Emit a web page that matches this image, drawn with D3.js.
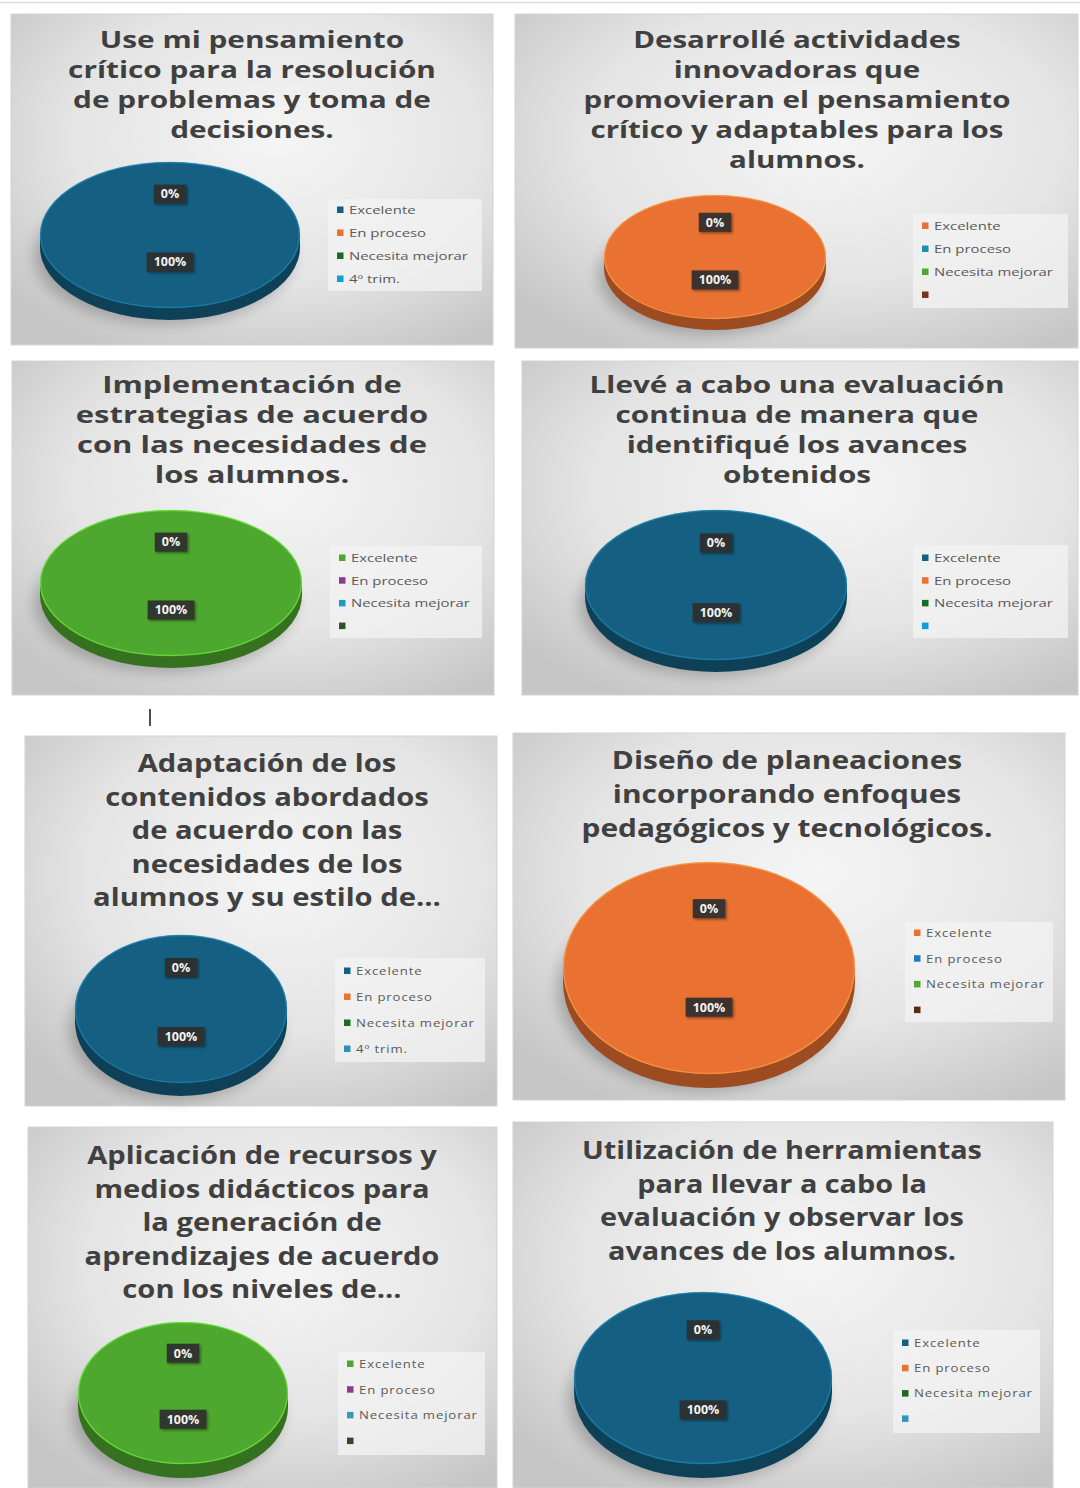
<!DOCTYPE html>
<html><head><meta charset="utf-8">
<script src="https://cdn.jsdelivr.net/npm/d3@7"></script>
<style>body{margin:0;background:#fff;} svg{display:block;}</style>
</head><body>
<svg id="c" width="1080" height="1488"></svg>
<script>
// ---------- DATA ----------
const titles = [
 ["Use mi pensamiento","crítico para la resolución","de problemas y toma de","decisiones."],
 ["Desarrollé actividades","innovadoras que","promovieran el pensamiento","crítico y adaptables para los","alumnos."],
 ["Implementación de","estrategias de acuerdo","con las necesidades de","los alumnos."],
 ["Llevé a cabo una evaluación","continua de manera que","identifiqué los avances","obtenidos"],
 ["Adaptación de los","contenidos abordados","de acuerdo con las","necesidades de los","alumnos y su estilo de..."],
 ["Diseño de planeaciones","incorporando enfoques","pedagógicos y tecnológicos."],
 ["Aplicación de recursos y","medios didácticos para","la generación de","aprendizajes de acuerdo","con los niveles de..."],
 ["Utilización de herramientas","para llevar a cabo la","evaluación y observar los","avances de los alumnos."]
];
const categories = ["Excelente","En proceso","Necesita mejorar"];
const fourthCategory = ["4º trim.","","","","4º trim.","","",""];
const excelente       = [100,100,100,100,100,100,100,100];
const enProceso       = [0,0,0,0,0,0,0,0];
const necesitaMejorar = [0,0,0,0,0,0,0,0];
const cuarto          = [0,0,0,0,0,0,0,0];
const palettes = [
 ["#156082","#E97132","#196B24","#0F9ED5"],
 ["#E97132","#1E8FB8","#4EA72E","#7A3517"],
 ["#4EA72E","#8E3A8C","#1E9BC4","#2F5224"],
 ["#156082","#E97132","#196B24","#0F9ED5"],
 ["#156082","#E97132","#196B24","#2E8FB8"],
 ["#E97132","#1F7BC0","#4EA72E","#5A2A12"],
 ["#4EA72E","#8E3A8C","#3C96B8","#2F4A26"],
 ["#156082","#E97132","#196B24","#2E95C2"]
];

// ---------- LAYOUT ----------
const layout = [
 {x:11,y:14,w:482,h:331, tcx:252, ty:40, lh:30, fs:23, fitLine:1, fitW:368, cx:170, cy:235, rx:130, ry:73, depth:12, lx:328, ly:199, lw:154, lhh:92, iy:210, istep:23, sp:0},
 {x:515,y:14,w:563,h:334, tcx:797, ty:40, lh:30, fs:23, fitLine:2, fitW:427, cx:715, cy:257, rx:111, ry:62, depth:11, lx:913, ly:214, lw:155, lhh:94, iy:226, istep:23, sp:0},
 {x:12,y:361,w:482,h:334, tcx:252, ty:385, lh:30, fs:23, fitLine:2, fitW:350, cx:171, cy:583, rx:131, ry:73, depth:12, lx:330, ly:546, lw:152, lhh:92, iy:558, istep:22.7, sp:0},
 {x:522,y:361,w:556,h:334, tcx:797, ty:385, lh:30, fs:23, fitLine:0, fitW:415, cx:716, cy:585, rx:131, ry:75, depth:12, lx:913, ly:545, lw:155, lhh:93, iy:558, istep:22.7, sp:0},
 {x:25,y:736,w:472,h:370, tcx:267, ty:763, lh:33.5, fs:25, fitLine:4, fitW:348, cx:181, cy:1009, rx:106, ry:74, depth:13, lx:335, ly:958, lw:150, lhh:104, iy:971, istep:26, sp:0.7},
 {x:513,y:733,w:552,h:367, tcx:787, ty:760, lh:34, fs:25.5, fitLine:2, fitW:411, cx:709, cy:968, rx:146, ry:106, depth:14, lx:905, ly:922, lw:148, lhh:100, iy:933, istep:25.7, sp:0.7},
 {x:28,y:1127,w:469,h:361, tcx:262, ty:1155, lh:33.5, fs:25, fitLine:3, fitW:355, cx:183, cy:1393, rx:105, ry:71, depth:14, lx:338, ly:1352, lw:147, lhh:103, iy:1364, istep:25.7, sp:0.7},
 {x:513,y:1122,w:540,h:366, tcx:782, ty:1150, lh:33.7, fs:25, fitLine:0, fitW:400, cx:703, cy:1378, rx:129, ry:86, depth:14, lx:893, ly:1330, lw:147, lhh:103, iy:1343, istep:25.3, sp:0.7}
];

const svg = d3.select("#c");
const defs = svg.append("defs");
const bg = defs.append("radialGradient").attr("id","panelBg").attr("cx","55%").attr("cy","38%").attr("r","72%");
bg.append("stop").attr("offset","0%").attr("stop-color","#f5f5f5");
bg.append("stop").attr("offset","60%").attr("stop-color","#e4e4e4");
bg.append("stop").attr("offset","100%").attr("stop-color","#c6c6c6");
const blur = defs.append("filter").attr("id","shadow").attr("x","-30%").attr("y","-30%").attr("width","160%").attr("height","160%");
blur.append("feGaussianBlur").attr("stdDeviation",7);
const lblShadow = defs.append("filter").attr("id","lblsh").attr("x","-20%").attr("y","-20%").attr("width","150%").attr("height","160%");
lblShadow.append("feDropShadow").attr("dx",1.5).attr("dy",1.5).attr("stdDeviation",1.2).attr("flood-color","#000").attr("flood-opacity",0.45);

svg.append("line").attr("x1",0).attr("x2",1080).attr("y1",2.5).attr("y2",2.5).attr("stroke","#dcdcdc").attr("stroke-width",1.5);
svg.append("line").attr("x1",150).attr("x2",150).attr("y1",709).attr("y2",726).attr("stroke","#222").attr("stroke-width",1.6);

const pct = d3.format(".0%");

layout.forEach((L, i) => {
  const g = svg.append("g");
  const colors = palettes[i];
  const cats = categories.concat([fourthCategory[i]]);
  const vals = [excelente[i], enProceso[i], necesitaMejorar[i], cuarto[i]];
  const data = cats.map((c, k) => ({cat:c, value:vals[k], color:colors[k]}));
  const total = d3.sum(vals);

  g.append("rect").attr("x",L.x).attr("y",L.y).attr("width",L.w).attr("height",L.h)
    .attr("fill","url(#panelBg)").attr("stroke","#d4d4d4").attr("stroke-width",1);

  const tg = g.append("g").attr("font-family","'Open Sans', sans-serif").attr("font-weight",700).attr("fill","#404040").attr("text-anchor","middle");
  const lines = tg.selectAll("text").data(titles[i]).join("text").text(d=>d).attr("x",0).attr("font-size",L.fs);
  const natural = lines.nodes()[L.fitLine].getComputedTextLength();
  const sx = L.fitW / natural;
  lines.attr("transform",(d,k)=>`translate(${L.tcx},${L.ty + k*L.lh + L.fs*0.36}) scale(${sx},1)`);

  const pie = d3.pie().sort(null).value(d=>d.value);
  const arcs = pie(data);
  const arc = d3.arc().innerRadius(0).outerRadius(L.rx);
  const sy = L.ry / L.rx;

  g.append("ellipse").attr("cx",L.cx-6).attr("cy",L.cy+L.depth+8).attr("rx",L.rx).attr("ry",L.ry*0.95)
    .attr("fill","#000").attr("opacity",0.22).attr("filter","url(#shadow)");

  const side = g.append("g");
  side.append("rect").attr("x",L.cx-L.rx).attr("y",L.cy).attr("width",2*L.rx).attr("height",L.depth)
    .attr("fill", d3.color(colors[0]).darker(1.1));
  side.append("g").attr("transform",`translate(${L.cx},${L.cy+L.depth}) scale(1,${sy})`)
    .selectAll("path").data(arcs).join("path").attr("d",arc).attr("fill",d=>d3.color(d.data.color).darker(1.1));

  g.append("g").attr("transform",`translate(${L.cx},${L.cy}) scale(1,${sy})`)
    .selectAll("path").data(arcs).join("path").attr("d",arc).attr("fill",d=>d.data.color);
  g.append("ellipse").attr("cx",L.cx).attr("cy",L.cy).attr("rx",L.rx-0.5).attr("ry",L.ry-0.5)
    .attr("fill","none").attr("stroke",d3.color(colors[0]).brighter(1.2)).attr("stroke-width",1.4).attr("opacity",0.55);

  const seen = new Set();
  const lbls = arcs.filter(a => {
    const key = a.value === 0 ? "z" : a.startAngle.toFixed(3);
    if (seen.has(key)) return false; seen.add(key); return true;
  });
  lbls.forEach(a => {
    const [x0, y0] = arc.centroid(a);
    const yy = y0 * sy;
    const f = yy < 0 ? 1.12 : 0.74;
    const lx = L.cx + x0, ly = L.cy + yy * f;
    const lg = g.append("g");
    const t = lg.append("text").attr("x",lx).attr("y",ly+4.3).attr("text-anchor","middle")
      .attr("font-family","'Open Sans', sans-serif").attr("font-weight",700).attr("font-size",12.5)
      .attr("fill","#f4f4f4").text(pct(a.value / total));
    const tw = t.node().getComputedTextLength();
    lg.insert("rect","text").attr("x",lx-tw/2-7).attr("y",ly-9.5).attr("width",tw+14).attr("height",19)
      .attr("fill","#2e2e2e").attr("opacity",0.92).attr("filter","url(#lblsh)");
  });

  const leg = g.append("g");
  leg.append("rect").attr("x",L.lx).attr("y",L.ly).attr("width",L.lw).attr("height",L.lhh).attr("fill","#f3f3f3").attr("opacity",0.75);
  const items = leg.selectAll("g.it").data(data).join("g").attr("class","it")
    .attr("transform",(d,k)=>`translate(${L.lx+9},${L.iy + k*L.istep})`);
  items.append("rect").attr("x",0).attr("y",-3.5).attr("width",6.5).attr("height",6.5).attr("fill",d=>d.color);
  const lt = items.append("text").attr("x",0).attr("font-family","'Open Sans', sans-serif")
    .attr("font-size",10.5).attr("fill","#595959").attr("letter-spacing",L.sp).text(d=>d.cat);
  const nat = lt.nodes()[2].getComputedTextLength();
  const lsx = 119 / nat;
  lt.attr("transform",`translate(12,3.8) scale(${lsx},1)`);
});
</script>
</body></html>
